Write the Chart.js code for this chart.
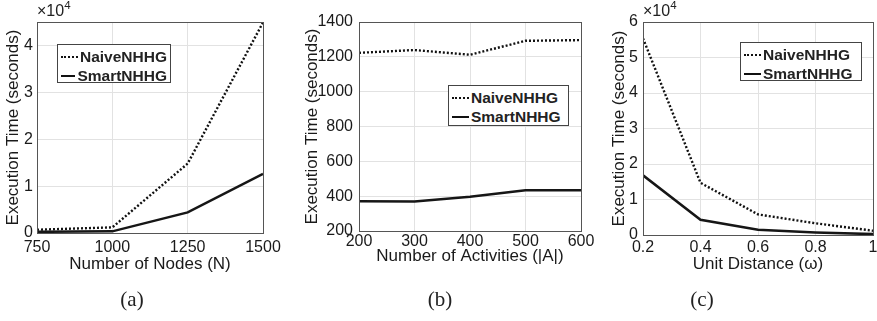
<!DOCTYPE html>
<html>
<head>
<meta charset="utf-8">
<script src="https://cdn.jsdelivr.net/npm/chart.js@4.4.1/dist/chart.umd.min.js"></script>
<style>
  html, body { margin: 0; padding: 0; background: #fff; }
  #wrap { position: relative; width: 877px; height: 321px; overflow: hidden; font-family: 'Liberation Sans', Arial, sans-serif; color: #222; }
  canvas { position: absolute; left: 0; top: 0; }
  .legend { position: absolute; background: #fff; border: 1px solid #444; box-sizing: border-box; padding: 2px 3px; }
  .legend .row { display: flex; align-items: center; height: 19px; font-weight: bold; font-size: 15.5px; }
  .legend .dot { width: 17px; border-top: 2.5px dotted #111; margin-right: 2px; }
  .legend .solid { width: 17px; border-top: 2.5px solid #111; margin-right: 2px; }
  .exp { position: absolute; font-size: 16px; }
  .exp sup { font-size: 11.5px; position: relative; top: -1px; }
  .cap { position: absolute; font-family: 'Liberation Serif', 'DejaVu Serif', serif; font-size: 21px; transform: translateX(-50%); }
</style>
</head>
<body>
<div id="wrap">
  <canvas id="chartA" width="877" height="321"></canvas>
  <canvas id="chartB" width="877" height="321"></canvas>
  <canvas id="chartC" width="877" height="321"></canvas>

  <div class="exp" style="left:37px; top:0px;">×10<sup>4</sup></div>
  <div class="exp" style="left:643px; top:0px;">×10<sup>4</sup></div>

  <div class="legend" style="left:57px; top:44px; width:114px; height:39px;">
    <div class="row"><span class="dot"></span>NaiveNHHG</div>
    <div class="row"><span class="solid"></span>SmartNHHG</div>
  </div>
  <div class="legend" style="left:448px; top:85px; width:121px; height:41px;">
    <div class="row"><span class="dot"></span>NaiveNHHG</div>
    <div class="row"><span class="solid"></span>SmartNHHG</div>
  </div>
  <div class="legend" style="left:740px; top:42px; width:122px; height:39px;">
    <div class="row"><span class="dot"></span>NaiveNHHG</div>
    <div class="row"><span class="solid"></span>SmartNHHG</div>
  </div>

  <div class="cap" style="left:132px; top:287px;">(a)</div>
  <div class="cap" style="left:440px; top:287px;">(b)</div>
  <div class="cap" style="left:702px; top:287px;">(c)</div>
</div>

<script>
// Panel (a): execution time vs number of nodes
const nodes = [750, 1000, 1250, 1500];
const naiveA = [700, 1200, 14800, 44900];
const smartA = [250, 350, 4400, 12600];
const xTicksA = [750, 1000, 1250, 1500];
const yTicksA = [0, 10000, 20000, 30000, 40000];
const yLabelsA = ['0', '1', '2', '3', '4'];

// Panel (b): execution time vs number of activities
const activities = [200, 300, 400, 500, 600];
const naiveB = [1223, 1239, 1212, 1292, 1296];
const smartB = [371, 370, 396, 434, 434];
const xTicksB = [200, 300, 400, 500, 600];
const yTicksB = [200, 400, 600, 800, 1000, 1200, 1400];

// Panel (c): execution time vs unit distance
const distance = [0.2, 0.4, 0.6, 0.8, 1.0];
const naiveC = [55400, 14700, 5800, 3300, 1200];
const smartC = [16800, 4300, 1500, 700, 250];
const xTicksC = [0.2, 0.4, 0.6, 0.8, 1.0];
const xLabelsC = ['0.2', '0.4', '0.6', '0.8', '1'];
const yTicksC = [0, 10000, 20000, 30000, 40000, 50000, 60000];
const yLabelsC = ['0', '1', '2', '3', '4', '5', '6'];

const FONT = "'Liberation Sans', Arial, sans-serif";
const W = 877, H = 321;

// draws the MATLAB-style box round the plot area
const boxPlugin = {
    id: 'box',
    afterDraw(chart) {
        const a = chart.chartArea;
        const ctx = chart.ctx;
        ctx.save();
        ctx.strokeStyle = '#555';
        ctx.lineWidth = 1;
        ctx.strokeRect(Math.round(a.left) + 0.5, Math.round(a.top) + 0.5,
            Math.round(a.right - a.left), Math.round(a.bottom - a.top));
        ctx.restore();
    }
};

function pts(xs, ys) {
    return xs.map((x, i) => ({ x: x, y: ys[i] }));
}

function makePanel(id, p) {
    const lh = 17 * 1.2;
    const padL = p.yTitleX - lh / 2;
    const xH = p.xTitleY + lh / 2 - p.bottom;
    new Chart(document.getElementById(id), {
        type: 'line',
        data: {
            datasets: [
                {
                    label: 'NaiveNHHG',
                    data: pts(p.xs, p.naive),
                    borderColor: '#111',
                    borderWidth: 2.4,
                    borderDash: [2, 2],
                    pointRadius: 0,
                    tension: 0
                },
                {
                    label: 'SmartNHHG',
                    data: pts(p.xs, p.smart),
                    borderColor: '#161616',
                    borderWidth: 2.5,
                    pointRadius: 0,
                    tension: 0
                }
            ]
        },
        options: {
            responsive: false,
            animation: false,
            devicePixelRatio: 1,
            layout: {
                padding: { left: padL, top: p.top, right: W - p.right, bottom: H - p.bottom - xH }
            },
            plugins: {
                legend: { display: false },
                tooltip: { enabled: false }
            },
            scales: {
                x: {
                    type: 'linear',
                    min: p.xMin,
                    max: p.xMax,
                    afterBuildTicks: (s) => { s.ticks = p.xTicks.map(v => ({ value: v })); },
                    afterFit: (s) => { s.height = xH; s.paddingLeft = 0; s.paddingRight = 0; },
                    grid: { color: '#e2e2e2', drawTicks: false },
                    border: { display: false },
                    ticks: {
                        padding: p.xPad,
                        maxRotation: 0,
                        autoSkip: false,
                        color: '#1a1a1a',
                        font: { family: FONT, size: 16 },
                        callback: (v, i) => p.xLabels ? p.xLabels[i] : String(v)
                    },
                    title: {
                        display: true,
                        text: p.xTitle,
                        color: '#1a1a1a',
                        padding: 0,
                        font: { family: FONT, size: 17 }
                    }
                },
                y: {
                    type: 'linear',
                    min: p.yMin,
                    max: p.yMax,
                    afterBuildTicks: (s) => { s.ticks = p.yTicks.map(v => ({ value: v })); },
                    afterFit: (s) => { s.width = p.left - padL; s.paddingTop = 0; s.paddingBottom = 0; },
                    grid: { color: '#e2e2e2', drawTicks: false },
                    border: { display: false },
                    ticks: {
                        padding: p.yPad,
                        autoSkip: false,
                        color: '#1a1a1a',
                        font: { family: FONT, size: 16 },
                        callback: (v, i) => p.yLabels ? p.yLabels[i] : String(v)
                    },
                    title: {
                        display: true,
                        text: 'Execution Time (seconds)',
                        color: '#1a1a1a',
                        padding: 0,
                        font: { family: FONT, size: 17 }
                    }
                }
            }
        },
        plugins: [boxPlugin]
    });
}

makePanel('chartA', {
    xs: nodes, naive: naiveA, smart: smartA,
    xMin: 750, xMax: 1500, yMin: 0, yMax: 45000,
    xTicks: xTicksA, yTicks: yTicksA, yLabels: yLabelsA,
    xTitle: 'Number of Nodes (N)',
    left: 37, right: 263, top: 22, bottom: 233,
    yTitleX: 13, xTitleY: 264, xPad: 5, yPad: 4
});

makePanel('chartB', {
    xs: activities, naive: naiveB, smart: smartB,
    xMin: 200, xMax: 600, yMin: 200, yMax: 1400,
    xTicks: xTicksB, yTicks: yTicksB,
    xTitle: 'Number of Activities (|A|)',
    left: 359, right: 581, top: 22, bottom: 231,
    yTitleX: 312, xTitleY: 256, xPad: 1, yPad: 6
});

makePanel('chartC', {
    xs: distance, naive: naiveC, smart: smartC,
    xMin: 0.2, xMax: 1.0, yMin: 0, yMax: 60000,
    xTicks: xTicksC, xLabels: xLabelsC, yTicks: yTicksC, yLabels: yLabelsC,
    xTitle: 'Unit Distance (ω)',
    left: 643, right: 873, top: 22, bottom: 235,
    yTitleX: 619, xTitleY: 264, xPad: 3, yPad: 5
});
</script>
</body>
</html>
